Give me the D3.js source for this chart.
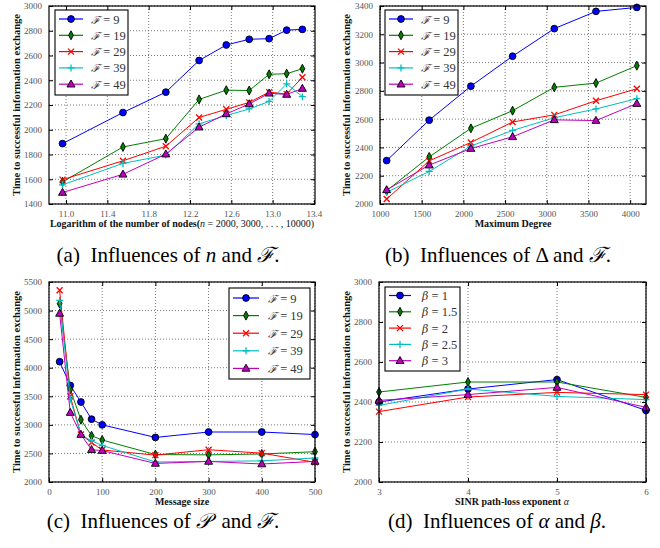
<!DOCTYPE html>
<html><head><meta charset="utf-8">
<script src="https://cdn.jsdelivr.net/npm/d3@7"></script>
<style>
body{margin:0;background:#fff;}
svg{display:block;}
text{font-family:"Liberation Serif","DejaVu Serif",serif;}
</style></head>
<body>
<svg id="chart" width="660" height="548"></svg>
<script>
// ---------- DATA ----------
const seriesF = ["9", "19", "29", "39", "49"];
const seriesBeta = ["1", "1.5", "2", "2.5", "3"];

// (a) log2 of number of nodes
const nodesX = [10.966, 11.551, 11.966, 12.288, 12.551, 12.773, 12.966, 13.136, 13.288];
const aF9  = [1888, 2139, 2304, 2560, 2685, 2731, 2736, 2805, 2811];
const aF19 = [1579, 1861, 1928, 2245, 2320, 2317, 2448, 2453, 2493];
const aF29 = [1597, 1749, 1867, 2099, 2165, 2221, 2304, 2288, 2424];
const aF39 = [1555, 1728, 1795, 2048, 2115, 2168, 2229, 2371, 2267];
const aF49 = [1493, 1640, 1803, 2021, 2128, 2208, 2295, 2285, 2333];
const aXTicks = [11.0, 11.4, 11.8, 12.2, 12.6, 13.0, 13.4];
const aYTicks = [1400, 1600, 1800, 2000, 2200, 2400, 2600, 2800, 3000];

// (b) maximum degree
const degX = [1080, 1590, 2090, 2590, 3090, 3590, 4080];
const bF9  = [2307, 2593, 2833, 3045, 3240, 3362, 3390];
const bF19 = [2094, 2333, 2535, 2660, 2825, 2855, 2978];
const bF29 = [2035, 2305, 2435, 2580, 2630, 2730, 2815];
const bF39 = [2082, 2230, 2410, 2520, 2610, 2672, 2745];
const bF49 = [2100, 2275, 2392, 2475, 2595, 2590, 2710];
const bXTicks = [1000, 1500, 2000, 2500, 3000, 3500, 4000];
const bYTicks = [2000, 2200, 2400, 2600, 2800, 3000, 3200, 3400];

// (c) message size
const msgX = [20, 40, 60, 80, 100, 200, 300, 400, 500];
const cF9  = [4105, 3690, 3400, 3100, 3000, 2780, 2875, 2875, 2830];
const cF19 = [5120, 3620, 3090, 2810, 2735, 2480, 2475, 2490, 2530];
const cF29 = [5355, 3500, 2830, 2690, 2560, 2470, 2565, 2505, 2345];
const cF39 = [5180, 3450, 2830, 2720, 2640, 2350, 2360, 2370, 2420];
const cF49 = [4950, 3215, 2830, 2565, 2550, 2325, 2360, 2315, 2360];
const cXTicks = [0, 100, 200, 300, 400, 500];
const cYTicks = [2000, 2500, 3000, 3500, 4000, 4500, 5000, 5500];

// (d) SINR path-loss exponent
const alphaX = [3, 4, 5, 6];
const dB1  = [2400, 2465, 2512, 2358];
const dB15 = [2450, 2500, 2500, 2423];
const dB2  = [2352, 2425, 2448, 2437];
const dB25 = [2383, 2465, 2428, 2412];
const dB3  = [2408, 2437, 2473, 2373];
const dXTicks = [3, 4, 5, 6];
const dYTicks = [2000, 2200, 2400, 2600, 2800, 3000];

// ---------- STYLE ----------
const colors = ["#0000ff", "#008000", "#ff0000", "#00bfbf", "#bf00bf"];
const markers = ["circle", "thindiamond", "x", "plus", "triangle"];

const svg = d3.select("#chart");

function markerPath(type) {
  switch (type) {
    case "circle": return d3.symbol(d3.symbolCircle, 36)();
    case "triangle": return "M0,-4.2L4,2.8L-4,2.8Z";
    case "thindiamond": return "M0,-4.5L2.4,0L0,4.5L-2.4,0Z";
    case "x": return "M-3,-3L3,3M-3,3L3,-3";
    case "plus": return "M-3.5,0L3.5,0M0,-3.5L0,3.5";
  }
}
function drawMarker(g, type, color, x, y) {
  const p = g.append("path").attr("d", markerPath(type)).attr("transform", `translate(${x},${y})`);
  if (type === "x" || type === "plus") {
    p.attr("fill", "none").attr("stroke", color).attr("stroke-width", 1.3);
  } else {
    p.attr("fill", color).attr("stroke", "#000").attr("stroke-width", 0.9);
  }
}

function panel(cfg) {
  const {L, R, T, B} = cfg.box;
  const x = d3.scaleLinear().domain(cfg.xDomain).range([L, R]);
  const y = d3.scaleLinear().domain(cfg.yDomain).range([B, T]);
  const g = svg.append("g");

  // grid
  const grid = g.append("g").attr("stroke", "#555").attr("stroke-width", 0.8).attr("stroke-dasharray", "1,2");
  cfg.xTicks.forEach(t => grid.append("line").attr("x1", x(t)).attr("x2", x(t)).attr("y1", T).attr("y2", B));
  cfg.yTicks.forEach(t => grid.append("line").attr("x1", L).attr("x2", R).attr("y1", y(t)).attr("y2", y(t)));

  // series
  const line = d3.line().x(d => x(d[0])).y(d => y(d[1]));
  cfg.series.forEach((s, i) => {
    const pts = cfg.xs.map((xv, j) => [xv, s[j]]);
    g.append("path").attr("d", line(pts)).attr("fill", "none").attr("stroke", colors[i]).attr("stroke-width", 1);
    pts.forEach(p => drawMarker(g, markers[i], colors[i], x(p[0]), y(p[1])));
  });

  // axes (ticks inward on all sides)
  const tickLen = 4;
  const axB = d3.axisBottom(x).tickValues(cfg.xTicks).tickFormat(cfg.xFmt).tickSizeInner(-tickLen).tickSizeOuter(0).tickPadding(7);
  const axT = d3.axisTop(x).tickValues(cfg.xTicks).tickFormat("").tickSizeInner(-tickLen).tickSizeOuter(0);
  const axL = d3.axisLeft(y).tickValues(cfg.yTicks).tickFormat(d3.format("d")).tickSizeInner(-tickLen).tickSizeOuter(0).tickPadding(7);
  const axR = d3.axisRight(y).tickValues(cfg.yTicks).tickFormat("").tickSizeInner(-tickLen).tickSizeOuter(0);
  const styleAxis = sel => {
    sel.select(".domain").remove();
    sel.selectAll(".tick line").attr("stroke", "#000").attr("stroke-width", 1);
    sel.selectAll(".tick text").attr("fill", "#555").attr("font-size", 9).attr("font-family", "Liberation Serif, serif");
  };
  g.append("g").attr("transform", `translate(0,${B})`).call(axB).call(styleAxis);
  g.append("g").attr("transform", `translate(0,${T})`).call(axT).call(styleAxis);
  g.append("g").attr("transform", `translate(${L},0)`).call(axL).call(styleAxis);
  g.append("g").attr("transform", `translate(${R},0)`).call(axR).call(styleAxis);

  // frame
  g.append("rect").attr("x", L).attr("y", T).attr("width", R - L).attr("height", B - T)
    .attr("fill", "none").attr("stroke", "#000").attr("stroke-width", 1.2);

  // y label
  g.append("text").attr("transform", `translate(${cfg.yLabelX},${(T + B) / 2}) rotate(-90)`)
    .attr("text-anchor", "middle").attr("font-size", 10.5).attr("font-weight", "bold").attr("fill", "#111")
    .text("Time to successful information exchange");

  // x label
  const xl = g.append("text").attr("x", cfg.xLabelX).attr("y", B + 23)
    .attr("text-anchor", "middle").attr("font-size", 10).attr("fill", "#111");
  cfg.xLabel(xl);

  // legend
  const lg = cfg.legend;
  const lgG = g.append("g");
  lgG.append("rect").attr("x", lg.x).attr("y", lg.y).attr("width", lg.w).attr("height", lg.h)
    .attr("fill", "#fff").attr("stroke", "#000").attr("stroke-width", 1.1);
  cfg.names.forEach((nm, i) => {
    const yy = lg.y + lg.first + i * lg.step;
    lgG.append("line").attr("x1", lg.x + 4).attr("x2", lg.x + 4 + lg.lineW).attr("y1", yy).attr("y2", yy)
      .attr("stroke", colors[i]).attr("stroke-width", 1.2);
    drawMarker(lgG, markers[i], colors[i], lg.x + 4 + lg.lineW / 2, yy);
    const t = lgG.append("text").attr("x", lg.x + lg.textX).attr("y", yy + 4.5).attr("font-size", 12.5).attr("fill", "#333");
    t.append("tspan").attr("font-style", "italic").attr("font-family", "DejaVu Serif, serif").attr("font-size", 11).text(lg.sym);
    t.append("tspan").text(" = " + nm);
  });

  // caption
  const cap = svg.append("text").attr("x", cfg.capX).attr("y", cfg.capY).attr("text-anchor", "middle")
    .attr("font-size", 21).attr("fill", "#000");
  cfg.caption(cap);
}

const fmt1 = d3.format(".1f");
const fmtD = d3.format("d");

panel({
  box: {L: 49, R: 315, T: 6, B: 204},
  xDomain: [10.835, 13.41], yDomain: [1400, 3000],
  xTicks: aXTicks, yTicks: aYTicks, xFmt: fmt1,
  xs: nodesX, series: [aF9, aF19, aF29, aF39, aF49], names: seriesF,
  yLabelX: 20, xLabelX: 182,
  xLabel: t => {
    t.append("tspan").attr("font-weight", "bold").text("Logarithm of the number of nodes(");
    t.append("tspan").attr("font-style", "italic").text("n");
    t.append("tspan").text(" = 2000, 3000, . . . , 10000)");
  },
  legend: {x: 55, y: 10, w: 73, h: 85, first: 9, step: 16.3, lineW: 24, textX: 36, sym: "ℱ"},
  capX: 168, capY: 262,
  caption: t => {
    t.append("tspan").text("(a)\u2002Influences of ");
    t.append("tspan").attr("font-style", "italic").text("n");
    t.append("tspan").text(" and ");
    t.append("tspan").attr("font-style", "italic").text("ℱ");
    t.append("tspan").text(".");
  }
});

panel({
  box: {L: 380, R: 646, T: 6, B: 204},
  xDomain: [1000, 4190], yDomain: [2000, 3400],
  xTicks: bXTicks, yTicks: bYTicks, xFmt: fmtD,
  xs: degX, series: [bF9, bF19, bF29, bF39, bF49], names: seriesF,
  yLabelX: 350, xLabelX: 513,
  xLabel: t => { t.append("tspan").attr("font-weight", "bold").text("Maximum Degree"); },
  legend: {x: 385, y: 10, w: 73, h: 85, first: 9, step: 16.3, lineW: 24, textX: 36, sym: "ℱ"},
  capX: 498, capY: 262,
  caption: t => {
    t.append("tspan").text("(b)\u2002Influences of Δ and ");
    t.append("tspan").attr("font-style", "italic").text("ℱ");
    t.append("tspan").text(".");
  }
});

panel({
  box: {L: 49, R: 315, T: 282, B: 482},
  xDomain: [0, 500], yDomain: [2000, 5500],
  xTicks: cXTicks, yTicks: cYTicks, xFmt: fmtD,
  xs: msgX, series: [cF9, cF19, cF29, cF39, cF49], names: seriesF,
  yLabelX: 20, xLabelX: 182,
  xLabel: t => { t.append("tspan").attr("font-weight", "bold").text("Message size"); },
  legend: {x: 229, y: 288, w: 81, h: 91, first: 10, step: 17.6, lineW: 26, textX: 39, sym: "ℱ"},
  capX: 163, capY: 528,
  caption: t => {
    t.append("tspan").text("(c)\u2002Influences of ");
    t.append("tspan").attr("font-style", "italic").text("𝒫");
    t.append("tspan").text("\u2002and ");
    t.append("tspan").attr("font-style", "italic").text("ℱ");
    t.append("tspan").text(".");
  }
});

panel({
  box: {L: 379, R: 646, T: 282, B: 482},
  xDomain: [3, 6], yDomain: [2000, 3000],
  xTicks: dXTicks, yTicks: dYTicks, xFmt: fmtD,
  xs: alphaX, series: [dB1, dB15, dB2, dB25, dB3], names: seriesBeta,
  yLabelX: 350, xLabelX: 512,
  xLabel: t => {
    t.append("tspan").attr("font-weight", "bold").text("SINR path-loss exponent ");
    t.append("tspan").attr("font-style", "italic").text("α");
  },
  legend: {x: 385, y: 287, w: 75, h: 84, first: 8.5, step: 16.3, lineW: 22, textX: 37, sym: "β"},
  capX: 497, capY: 528,
  caption: t => {
    t.append("tspan").text("(d)\u2002Influences of ");
    t.append("tspan").attr("font-style", "italic").text("α");
    t.append("tspan").text(" and ");
    t.append("tspan").attr("font-style", "italic").text("β");
    t.append("tspan").text(".");
  }
});
</script>
</body></html>
